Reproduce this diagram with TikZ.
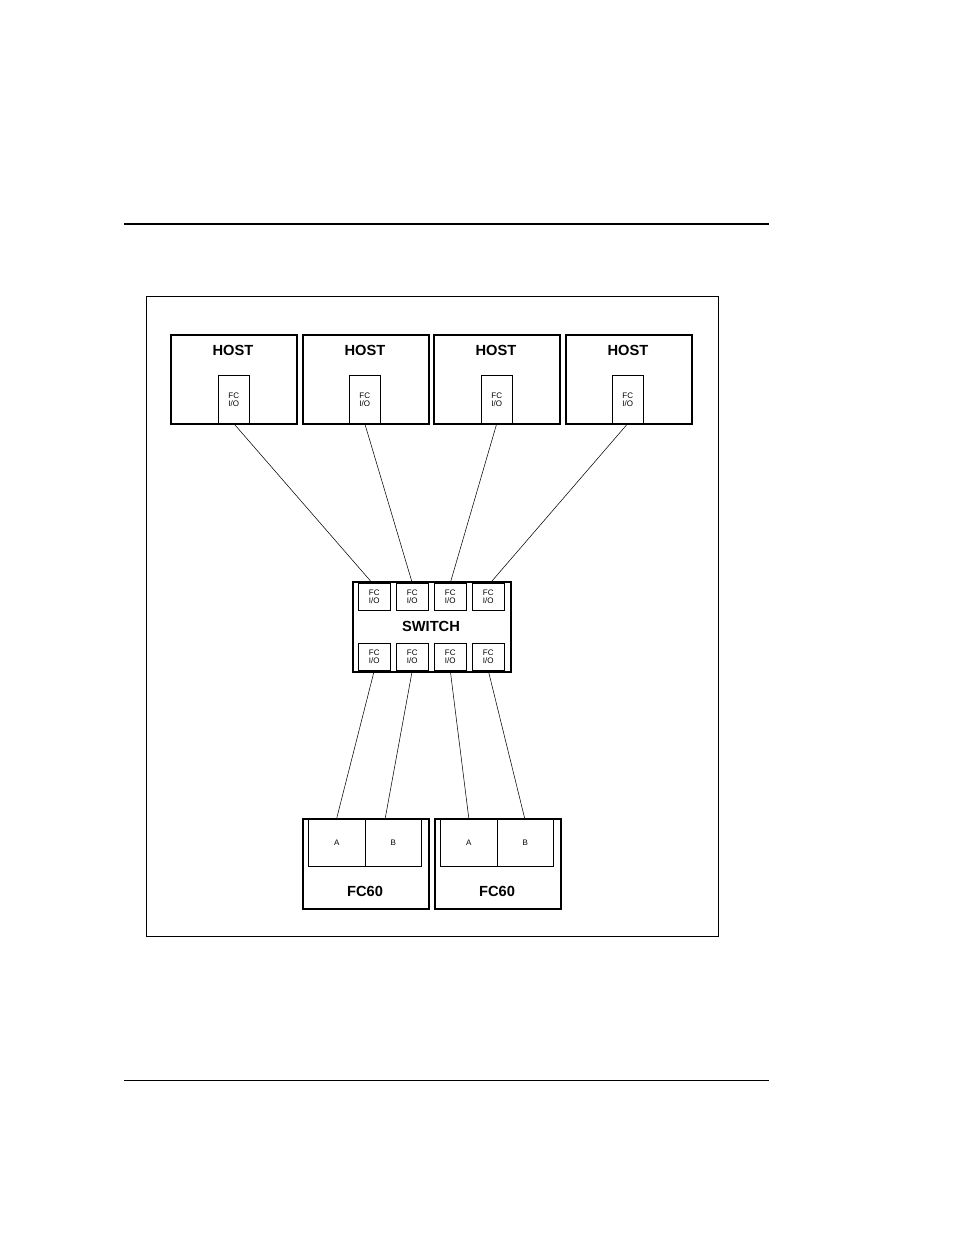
\documentclass[tikz,border=0pt]{standalone}
\usepackage{fontspec}
\setmainfont{Liberation Sans}
\usetikzlibrary{positioning}
\tikzset{
    box/.style={draw, very thick, inner sep=0pt, anchor=north west}, % outer boxes
    port/.style={draw, thin, inner sep=0pt, anchor=north west, font=\fontsize{6}{6}\selectfont, align=center},
    title/.style={font=\bfseries\fontsize{11}{11}\selectfont},
    link/.style={thin},
}
\begin{document}
\begin{tikzpicture}[x=0.75pt, y=-0.75pt]
\useasboundingbox (0,0) rectangle (954,1235);
\draw[line width=2.2pt] (124,224) -- (769,224);
\draw[thin] (124,1080) -- (769,1080);
\draw[thin] (146,296) rectangle (718,936);
% hosts
\foreach \i/\x/\p in {1/170/218, 2/302/349, 3/433/481, 4/565/612} {
    \node[box, minimum width=94.5pt, minimum height=66.75pt] (host\i) at (\x,334) {};
    \node[title] at (\x+63,350) {HOST};
    \node[port, minimum width=23.25pt, minimum height=36pt] (hp\i) at (\p,375) {FC\\I/O};
}
% switch
\node[box, minimum width=118.5pt, minimum height=67.5pt] (switch) at (352,581) {};
\node[title] at (431,626) {SWITCH};
\foreach \i/\x in {1/358, 2/396, 3/434, 4/472} {
    \node[port, minimum width=24pt, minimum height=20.25pt] (st\i) at (\x,583) {FC\\I/O};
    \node[port, minimum width=24pt, minimum height=20.25pt] (sb\i) at (\x,643) {FC\\I/O};
}
% storage
\foreach \i/\x in {1/302, 2/434} {
    \node[box, minimum width=94.5pt, minimum height=67.5pt] (fc\i) at (\x,818) {};
    \node[title] at (\x+63,891) {FC60};
    \node[port, minimum width=42.75pt, minimum height=36pt] (fc\i a) at (\x+6,818) {A};
    \node[port, minimum width=42pt, minimum height=36pt] (fc\i b) at (\x+63,818) {B};
}
\draw[link] (hp1.south) -- ([xshift=-1.5pt]st1.north);
\draw[link] (hp2.south) -- (st2.north);
\draw[link] (hp3.south) -- (st3.north);
\draw[link] (hp4.south) -- ([xshift=1.5pt]st4.north);
\draw[link] (sb1.south) -- (fc1a.north);
\draw[link] (sb2.south) -- ([xshift=-6pt]fc1b.north);
\draw[link] (sb3.south) -- (fc2a.north);
\draw[link] (sb4.south) -- ([xshift=-0.5pt]fc2b.north);
\end{tikzpicture}
\end{document}
